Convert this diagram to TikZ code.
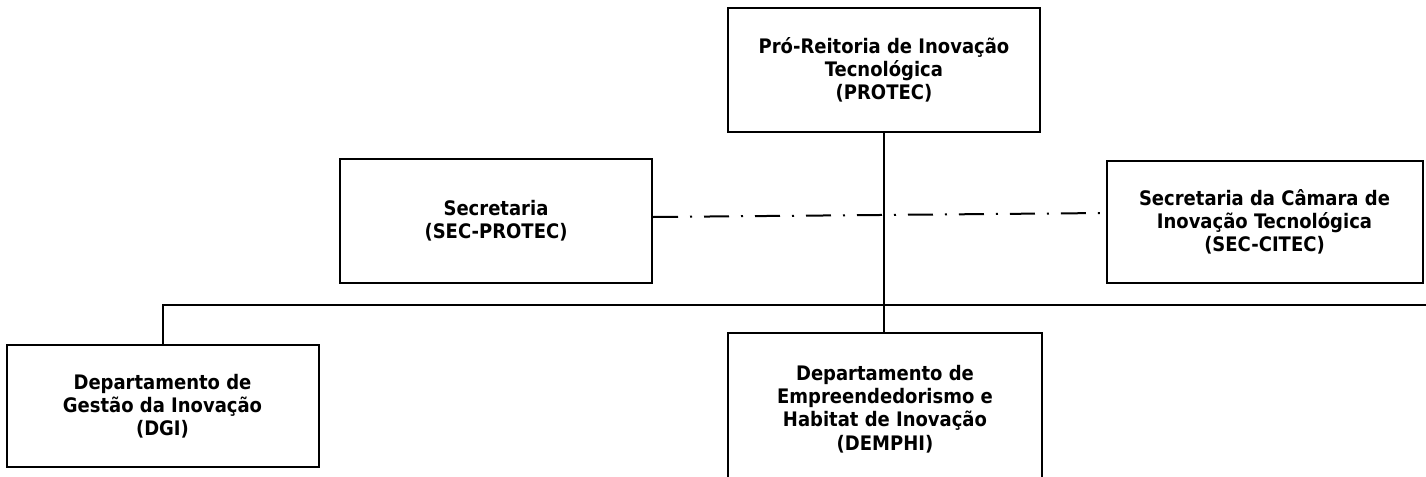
\documentclass[tikz,border=0pt]{standalone}
\usepackage{fontspec}
\setmainfont{DejaVu Sans Condensed}
\usepackage{tikz}

\begin{document}
\begin{tikzpicture}[x=0.5pt,y=-0.5pt,line width=1pt,
    orgbox/.style={draw,rectangle,align=center,minimum width=156pt,minimum height=62pt,inner sep=2pt,font=\bfseries\fontsize{10}{11.6}\selectfont},
    dashdot/.style={dash pattern=on 12.5pt off 6pt on 1pt off 6pt}]
        \useasboundingbox (0,0) rectangle (1426,477);
        \clip (0,0) rectangle (1426,477);
        \node[orgbox] (protec) at (884,70) {Pró-Reitoria de Inovação\\Tecnológica\\(PROTEC)};
        \node[orgbox] (secprotec) at (496,221) {Secretaria\\(SEC-PROTEC)};
        \node[orgbox,minimum width=158pt,minimum height=61pt] (seccitec) at (1264.5,222) {Secretaria da Câmara de\\Inovação Tecnológica\\(SEC-CITEC)};
        \node[orgbox,minimum height=61pt] (dgi) at (162.5,406) {Departamento de\\Gestão da Inovação\\(DGI)};
        \node[orgbox,minimum width=157pt,minimum height=76pt] (demphi) at (885,409) {Departamento de\\Empreendedorismo e\\Habitat de Inovação\\(DEMPHI)};
        \coordinate (busend) at (1426,305);
        \draw (protec.south) -- (protec.south |- demphi.north);
        \draw (dgi.north) |- (busend);
        \draw[dashdot] (secprotec.east |- 0,217) -- (seccitec.west |- 0,213);
    \end{tikzpicture}
\end{document}
